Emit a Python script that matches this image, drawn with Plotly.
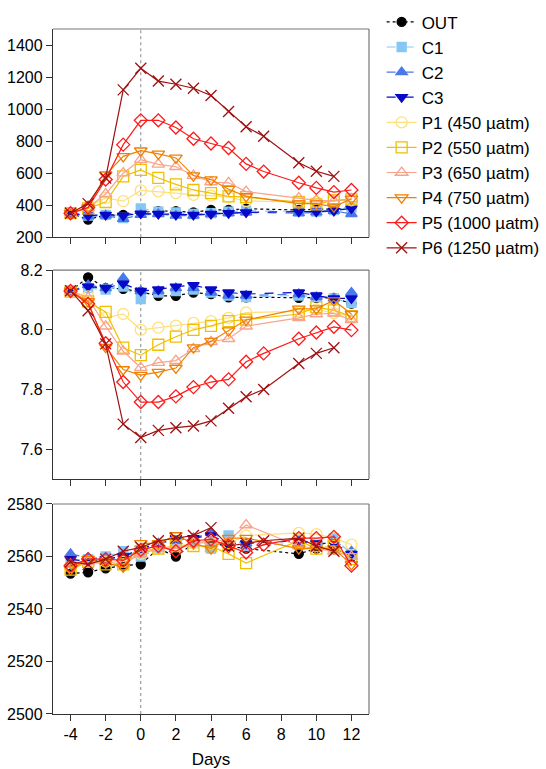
import plotly.graph_objects as go

# ---------------- data ----------------
days = [-4, -3, -2, -1, 0, 1, 2, 3, 4, 5, 6, 9, 10, 11, 12]
days_p5 = [-4, -3, -2, -1, 0, 1, 2, 3, 4, 5, 6, 7, 9, 10, 11, 12]
days_p6 = [-4, -3, -2, -1, 0, 1, 2, 3, 4, 5, 6, 7, 9, 10, 11]

names = ["OUT", "C1", "C2", "C3", "P1 (450 µatm)", "P2 (550 µatm)", "P3 (650 µatm)",
         "P4 (750 µatm)", "P5 (1000 µatm)", "P6 (1250 µatm)"]

# pCO2 (µatm)
pco2_out = [350, 310, 340, 340, 355, 363, 363, 355, 371, 370, 378, 370, 375, 375, 385]
pco2_c1 = [350, 335, 340, 320, 380, 360, 355, 345, 350, 360, 365, 360, 360, 370, 385]
pco2_c2 = [350, 330, 335, 315, 340, 345, 335, 335, 345, 350, 355, 350, 355, 365, 345]
pco2_c3 = [350, 335, 340, 335, 348, 345, 340, 340, 345, 350, 355, 360, 360, 365, 380]
pco2_p1 = [350, 390, 445, 425, 492, 486, 476, 465, 460, 450, 426, 420, 420, 430, 430]
pco2_p2 = [350, 380, 420, 580, 620, 570, 530, 495, 475, 455, 450, 420, 405, 430, 436]
pco2_p3 = [350, 385, 470, 600, 685, 655, 640, 585, 545, 540, 485, 445, 430, 425, 440]
pco2_p4 = [350, 385, 590, 705, 740, 720, 695, 585, 560, 500, 455, 410, 410, 390, 440]
pco2_p5 = [350, 385, 560, 778, 930, 930, 885, 815, 785, 757, 658, 610, 540, 508, 482, 495]
pco2_p6 = [350, 410, 570, 1120, 1255, 1175, 1155, 1130, 1085, 985, 890, 830, 665, 612, 580]

# pH
ph_out = [8.13, 8.176, 8.14, 8.137, 8.127, 8.114, 8.114, 8.125, 8.12, 8.109, 8.109, 8.107, 8.107, 8.107, 8.088]
ph_c1 = [8.13, 8.14, 8.135, 8.145, 8.103, 8.125, 8.13, 8.135, 8.125, 8.115, 8.11, 8.115, 8.11, 8.105, 8.09]
ph_c2 = [8.13, 8.15, 8.14, 8.173, 8.13, 8.13, 8.14, 8.14, 8.125, 8.115, 8.115, 8.12, 8.11, 8.105, 8.125]
ph_c3 = [8.13, 8.145, 8.14, 8.155, 8.13, 8.135, 8.145, 8.15, 8.135, 8.125, 8.12, 8.125, 8.115, 8.105, 8.105]
ph_p1 = [8.13, 8.112, 8.04, 8.053, 8.0, 8.007, 8.014, 8.023, 8.029, 8.04, 8.058, 8.062, 8.068, 8.056, 8.045]
ph_p2 = [8.128, 8.095, 8.06, 7.94, 7.915, 7.95, 7.977, 8.0, 8.013, 8.029, 8.034, 8.053, 8.076, 8.065, 8.045]
ph_p3 = [8.13, 8.107, 8.012, 7.928, 7.873, 7.89, 7.897, 7.936, 7.96, 7.97, 8.012, 8.04, 8.053, 8.055, 8.033]
ph_p4 = [8.13, 8.095, 7.942, 7.867, 7.848, 7.858, 7.872, 7.94, 7.962, 7.997, 8.033, 8.07, 8.071, 8.098, 8.053]
ph_p5 = [8.13, 8.087, 7.955, 7.825, 7.758, 7.758, 7.777, 7.808, 7.825, 7.834, 7.893, 7.921, 7.97, 7.991, 8.01, 7.999]
ph_p6 = [8.131, 8.064, 7.953, 7.684, 7.639, 7.663, 7.672, 7.678, 7.695, 7.737, 7.776, 7.80, 7.887, 7.921, 7.94]

# Total alkalinity
ta_out = [2553.5, 2554, 2555.5, 2556.5, 2557, 2563, 2560, 2565, 2565, 2564, 2563, 2561, 2563, 2563, 2560]
ta_c1 = [2558, 2559, 2560, 2562, 2560, 2563, 2565, 2565, 2563, 2568, 2564, 2565, 2565, 2567, 2561]
ta_c2 = [2561, 2559.5, 2559, 2560, 2562, 2565, 2566, 2567, 2569, 2566, 2565, 2566, 2564, 2566, 2562]
ta_c3 = [2559, 2558, 2559, 2560, 2563, 2565, 2567, 2567, 2568, 2565, 2565, 2566, 2565, 2565, 2561]
ta_p1 = [2556, 2558, 2558, 2558, 2561, 2563, 2564, 2565, 2565, 2565, 2568, 2569, 2568.5, 2567, 2564.5]
ta_p2 = [2555, 2558, 2557, 2557, 2562, 2563, 2564, 2564, 2564, 2561, 2557.5, 2566, 2563, 2564, 2559]
ta_p3 = [2557, 2558, 2558, 2557, 2561, 2563, 2563, 2565, 2566, 2566, 2572, 2564, 2563, 2562, 2560]
ta_p4 = [2555, 2559, 2557.5, 2556, 2565, 2565, 2568, 2565, 2563, 2567, 2567, 2563, 2563, 2563, 2557]
ta_p5 = [2556.5, 2559, 2559, 2558.5, 2562.5, 2564, 2562, 2566, 2566.5, 2564, 2561.5, 2564.5, 2567, 2567, 2567.5, 2556.5]
ta_p6 = [2558, 2557, 2559, 2562, 2563.5, 2566, 2567, 2568, 2571, 2564, 2565, 2566, 2567, 2564, 2562]

xticks = [-4, -2, 0, 2, 4, 6, 8, 10, 12]
xticklabels = ["-4", "-2", "0", "2", "4", "6", "8", "10", "12"]

# ---------------- styles ----------------
colors = ["#000000", "#86C6F4", "#4A78E8", "#0808C8", "#FFE07A", "#F0C000",
          "#F8A48C", "#F08000", "#FF1A1A", "#A01010"]
symbols = ["circle", "square", "triangle-up", "triangle-down", "circle-open", "square-open",
           "triangle-up-open", "triangle-down-open", "diamond-open", "x-thin-open"]
dashes = ["dot", "dash", "dash", "dash", "solid", "solid", "solid", "solid", "solid", "solid"]
sizes = [9, 9, 10, 10, 11, 11, 11, 11, 10, 11]

xs = [days] * 8 + [days_p5, days_p6]
panels = [
    ([pco2_out, pco2_c1, pco2_c2, pco2_c3, pco2_p1, pco2_p2, pco2_p3, pco2_p4, pco2_p5, pco2_p6], "x", "y"),
    ([ph_out, ph_c1, ph_c2, ph_c3, ph_p1, ph_p2, ph_p3, ph_p4, ph_p5, ph_p6], "x2", "y2"),
    ([ta_out, ta_c1, ta_c2, ta_c3, ta_p1, ta_p2, ta_p3, ta_p4, ta_p5, ta_p6], "x3", "y3"),
]

fig = go.Figure()
for pi, (series, xa, ya) in enumerate(panels):
    for i, ys in enumerate(series):
        mk = dict(symbol=symbols[i], size=sizes[i], color=colors[i],
                  line=dict(color=colors[i], width=1.3))
        fig.add_trace(go.Scatter(
            x=xs[i], y=ys, mode="lines+markers", name=names[i],
            line=dict(color=colors[i], width=1.2, dash=dashes[i]),
            marker=mk, xaxis=xa, yaxis=ya, showlegend=(pi == 0),
            legendgroup=names[i]))

font = "Liberation Sans, Arial, sans-serif"
axis_common = dict(showgrid=False, zeroline=False, showline=True, mirror=False,
                   linecolor="#333333", linewidth=1.3, ticks="outside", ticklen=6,
                   tickwidth=1.2, tickcolor="#333333", automargin=False,
                   tickfont=dict(family=font, size=16, color="#000"))

doms = [[0.696, 1.0], [0.343, 0.648], [0.0, 0.3066]]
fig.update_layout(
    width=546, height=769,
    margin=dict(l=53, r=177, t=29, b=55, autoexpand=False),
    paper_bgcolor="white", plot_bgcolor="white",
    font=dict(family=font, size=15, color="#000"),
    xaxis=dict(axis_common, range=[-5, 13], tickvals=xticks, showticklabels=False, anchor="y"),
    xaxis2=dict(axis_common, range=[-5, 13], tickvals=xticks, showticklabels=False, anchor="y2", matches="x"),
    xaxis3=dict(axis_common, range=[-5, 13], tickvals=xticks, ticktext=xticklabels, anchor="y3", matches="x",
                title=dict(text="Days", font=dict(family=font, size=17), standoff=18)),
    yaxis=dict(axis_common, domain=doms[0], range=[200, 1500], tickvals=[200, 400, 600, 800, 1000, 1200, 1400], anchor="x"),
    yaxis2=dict(axis_common, domain=doms[1], range=[7.5, 8.2], tickvals=[7.6, 7.8, 8.0, 8.2],
                tickformat=".1f", anchor="x2"),
    yaxis3=dict(axis_common, domain=doms[2], range=[2500, 2580], tickvals=[2500, 2520, 2540, 2560, 2580], anchor="x3"),
    legend=dict(x=1.04, y=1.036, xanchor="left", yanchor="top", bgcolor="rgba(0,0,0,0)",
                font=dict(family=font, size=17), tracegroupgap=0, itemwidth=30),
)

for xa, ya in [("x", "y"), ("x2", "y2"), ("x3", "y3")]:
    fig.add_shape(type="line", xref=xa, yref=ya + " domain", x0=0, x1=0, y0=0, y1=1,
                  line=dict(color="#888888", width=1, dash="dot"), layer="below")
    # lighter top and right frame lines
    fig.add_shape(type="line", xref=xa + " domain", yref=ya + " domain", x0=0, x1=1, y0=1, y1=1,
                  line=dict(color="#777777", width=1.2))
    fig.add_shape(type="line", xref=xa + " domain", yref=ya + " domain", x0=1, x1=1, y0=0, y1=1,
                  line=dict(color="#777777", width=1.2))

fig.write_html("out.html")
